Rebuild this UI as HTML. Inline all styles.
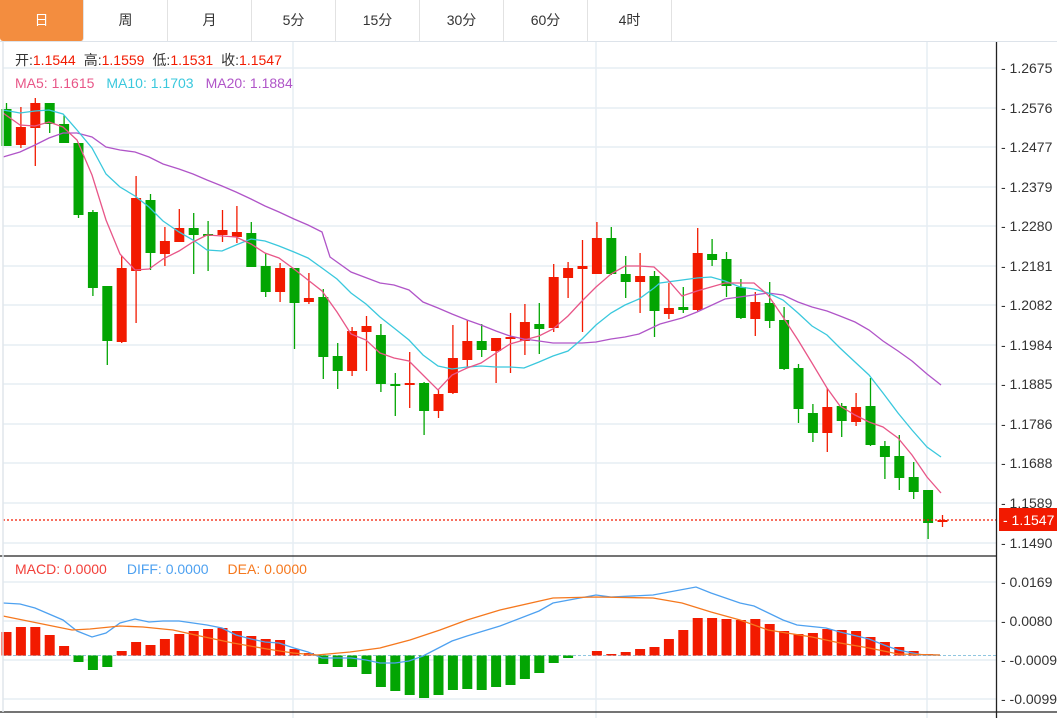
<!DOCTYPE html>
<html><head><meta charset="utf-8"><style>
html,body{margin:0;padding:0;background:#fff;width:1057px;height:718px;overflow:hidden;font-family:"Liberation Sans","Noto Sans CJK SC",sans-serif}
#tabs{position:absolute;left:0;top:0;width:1057px;height:41px;border-bottom:1px solid #dde3ea}
.t{position:absolute;top:0;height:41px;width:84px;line-height:41px;text-align:center;font-size:14px;color:#333;border-right:1px solid #e2e2e2;box-sizing:border-box}
.t.a{background:#f38d3f;color:#fff;border-radius:0 0 3px 3px}
svg{position:absolute;left:0;top:0}
</style></head><body>
<div id="tabs">
<div class="t a" style="left:0">日</div><div class="t" style="left:84px">周</div><div class="t" style="left:168px">月</div><div class="t" style="left:252px">5分</div><div class="t" style="left:336px">15分</div><div class="t" style="left:420px">30分</div><div class="t" style="left:504px">60分</div><div class="t" style="left:588px">4时</div>
</div>
<svg id="s" width="1057" height="718" xmlns="http://www.w3.org/2000/svg" font-family="Liberation Sans, Noto Sans CJK SC, sans-serif">
<g id="grid" stroke="#e6edf3" stroke-width="1.5"></g>
<g id="cand"></g>
<g id="lines" fill="none" stroke-width="1.3"></g>
<line x1="3" y1="520" x2="996" y2="520" stroke="#f21a00" stroke-width="1.2" stroke-dasharray="2,2"/>
<line x1="3" y1="655.5" x2="996" y2="655.5" stroke="#8fc6e0" stroke-width="1" stroke-dasharray="3,2"/>
<g id="macd"></g>
<g id="mlines" fill="none" stroke-width="1.3"></g>
<line x1="0" y1="556" x2="996" y2="556" stroke="#222" stroke-width="1.3"/>
<line x1="0" y1="712" x2="1057" y2="712" stroke="#222" stroke-width="1.3"/>
<line x1="996.5" y1="42" x2="996.5" y2="718" stroke="#222" stroke-width="1.3"/>
<line x1="3" y1="42" x2="3" y2="712" stroke="#e0e6ec" stroke-width="1.5"/>
<g id="ax" font-size="14" fill="#333"></g>
<rect x="999" y="508" width="58" height="23" fill="#f21a00"/>
<text x="1003" y="525" font-size="14" fill="#fff">- 1.1547</text>
<text x="15" y="65" font-size="14"><tspan fill="#333">开:</tspan><tspan fill="#f21a00">1.1544</tspan><tspan fill="#333" dx="8">高:</tspan><tspan fill="#f21a00">1.1559</tspan><tspan fill="#333" dx="8">低:</tspan><tspan fill="#f21a00">1.1531</tspan><tspan fill="#333" dx="8">收:</tspan><tspan fill="#f21a00">1.1547</tspan></text>
<text x="15" y="88" font-size="14"><tspan fill="#e85688">MA5: 1.1615</tspan><tspan fill="#3ac8dd" dx="12">MA10: 1.1703</tspan><tspan fill="#b055c8" dx="12">MA20: 1.1884</tspan></text>
<text x="15" y="574" font-size="14"><tspan fill="#f2403a">MACD: 0.0000</tspan><tspan fill="#4ea1f0" dx="20">DIFF: 0.0000</tspan><tspan fill="#f5781e" dx="19">DEA: 0.0000</tspan></text>
</svg>
<script>
var NS="http://www.w3.org/2000/svg";
function el(p,n,a){var e=document.createElementNS(NS,n);for(var k in a)e.setAttribute(k,a[k]);document.getElementById(p).appendChild(e);return e;}
var gy=[68,108,147,187,226,266,305,345,384,424,463,503,543];
var gl=["1.2675","1.2576","1.2477","1.2379","1.2280","1.2181","1.2082","1.1984","1.1885","1.1786","1.1688","1.1589","1.1490"];
gy.forEach(function(y,i){el("grid","line",{x1:3,y1:y,x2:996,y2:y});var t=el("ax","text",{x:1001,y:y+5});t.textContent="- "+gl[i];});
[582,621,660,699].forEach(function(y,i){el("grid","line",{x1:3,y1:y,x2:996,y2:y});var t=el("ax","text",{x:1001,y:y+5});t.textContent=["- 0.0169","- 0.0080","- -0.0009","- -0.0099"][i];});
[293,596,927].forEach(function(x){el("grid","line",{x1:x,y1:42,x2:x,y2:718});});
var C=[["g",109,146,103,146],["r",127,145,107,148],["r",103,128,98,166],["g",103,124,103,133],["g",124,143,115,143],["g",143,215,143,218],["g",212,288,210,296],["g",286,341,286,365],["r",268,342,256,343],["r",198,271,176,323],["g",200,253,194,270],["r",241,254,227,266],["r",228,242,209,242],["g",228,235,213,274],["g",234,236,221,271],["r",230,235,210,242],["r",232,237,206,243],["g",233,267,222,267],["g",266,292,253,297],["r",268,292,263,302],["g",268,303,268,349],["r",298,302,273,304],["g",297,357,289,379],["g",356,371,343,389],["r",331,371,327,376],["r",326,332,316,371],["g",335,384,324,392],["g",384,385,373,416],["r",383,385,352,408],["g",383,411,382,435],["r",394,411,390,418],["r",358,393,325,394],["r",341,360,320,367],["g",341,350,324,357],["r",338,351,338,383],["r",337,339,313,373],["r",322,341,304,355],["g",324,329,303,354],["r",277,328,264,332],["r",268,278,262,298],["r",266,269,240,332],["r",238,274,222,274],["g",238,274,227,275],["g",274,282,256,298],["r",276,282,253,313],["g",276,311,271,337],["r",308,314,283,319],["g",307,310,287,313],["r",253,310,228,312],["g",254,260,239,266],["g",259,286,252,297],["g",287,318,279,319],["r",302,319,292,336],["g",303,321,282,328],["g",320,369,307,370],["g",368,409,364,423],["g",413,433,404,442],["r",407,433,388,452],["g",406,421,403,437],["r",407,422,393,426],["g",406,445,378,446],["g",446,457,441,479],["g",456,478,435,490],["g",477,492,462,499],["g",490,523,490,539],["r",520,522,515,527]];
function X(i){return 6.5+i*14.4;}
C.forEach(function(c,i){var col=c[0]=="r"?"#f21a00":"#03a503";var x=X(i);
el("cand","line",{x1:x,y1:c[3],x2:x,y2:c[4],stroke:col,"stroke-width":1.3});
var h=Math.max(c[2]-c[1],2);el("cand","rect",{x:x-5,y:c[1],width:10,height:h,fill:col});});
function pl(g,pts,col){el(g,"polyline",{points:pts,stroke:col});}
pl("lines","660,324 682,318 697,312 725,299 754,295 768,293 783,295 798,302 812,307 827,311 840,316 855,322 869,330 883,341 898,351 912,361 927,374 941,385","#b055c8");
pl("lines","3,157 20,152 35,145 49,138 63,133 77,133 92,137 106,147 120,150 135,152 149,157 163,164 179,169 193,174 207,180 222,186 236,192 251,199 265,206 279,212 294,219 308,225 322,232 330,257 351,272 380,283 394,285 409,290 423,302 438,308 452,314 467,320 481,325 496,331 510,336 524,339 539,341 553,343 568,343 582,343 596,342 611,339 625,337 639,334 660,324","#b055c8");
pl("lines","3,110 20,113 35,111 49,110 63,114 77,130 92,148 106,174 120,187 135,196 149,207 163,221 179,232 193,240 207,250 222,251 236,245 251,239 265,241 279,246 294,252 308,258 322,268 337,279 351,293 366,304 380,317 394,328 409,340 423,355 438,366 452,369 467,367 481,366 496,367 510,367 524,368 539,362 553,356 568,351 582,339 596,325 611,313 625,305 639,299 654,288 660,283 697,278 711,277 725,281 740,287 754,289 768,293 783,300 798,313 812,326 827,335 840,348 855,362 869,375 883,393 898,413 912,430 927,447 941,457","#3ac8dd");
pl("lines","3,113 20,125 35,126 49,122 63,127 77,140 92,175 106,220 120,254 135,270 149,269 163,259 179,251 193,242 207,235 222,236 236,237 251,244 265,253 279,258 294,269 308,280 322,291 337,312 351,334 366,340 380,353 394,358 409,361 423,375 438,390 452,375 467,368 481,363 496,353 510,344 524,340 539,336 553,329 568,316 582,301 596,287 611,274 625,266 639,266 654,267 668,280 682,296 697,291 725,283 754,283 768,295 783,317 798,340 812,363 827,388 840,406 855,415 869,422 883,427 898,438 912,455 927,477 941,493","#e85688");
var M=[632,627,627,635,646,662,670,667,651,642,645,639,634,631,629,628,631,636,639,640,649,653,664,667,667,674,687,691,695,698,695,690,689,690,687,685,679,673,663,658,656,651,654,652,649,647,639,630,618,618,619,620,619,624,631,634,633,629,630,631,637,642,647,651,654,655];
var Z=655.5;
M.forEach(function(v,i){var x=X(i);if(Math.abs(v-Z)<0.8)return;var top=Math.min(v,Z),h=Math.abs(v-Z);el("macd","rect",{x:x-5,y:top,width:10,height:h,fill:v<Z?"#f21a00":"#03a503"});});
pl("mlines","3,603 20,604 35,608 63,620 77,631 92,637 106,633 120,623 135,619 149,622 163,621 179,621 193,623 207,625 222,628 236,635 251,639 265,642 279,643 294,648 308,652 322,658 337,658 351,658 366,660 380,663 395,663 409,661 423,656 452,641 467,636 500,626 539,611 553,603 596,595 611,597 653,595 696,587 711,593 740,603 754,606 783,620 797,625 826,628 840,632 869,639 884,645 898,650 923,655 940,655","#4ea1f0");
pl("mlines","3,616 72,630 90,629 120,626 143,627 173,630 200,636 233,643 267,649 293,653 317,655 350,652 380,648 410,640 440,630 467,620 500,610 553,598 596,597 653,598 682,603 711,612 740,620 768,630 812,637 840,643 869,648 898,654 940,655","#f5781e");
</script>
</body></html>
